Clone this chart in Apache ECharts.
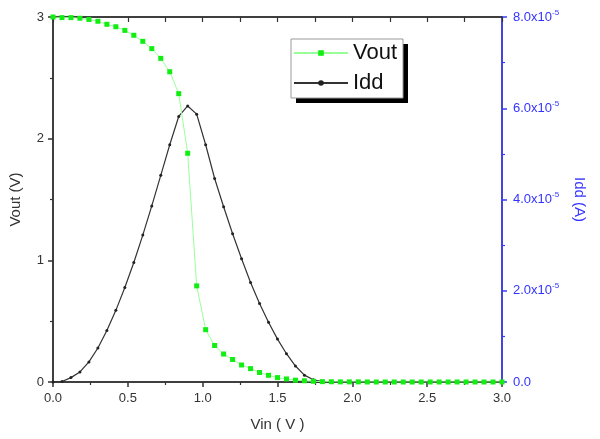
<!DOCTYPE html>
<html><head><meta charset="utf-8">
<script src="https://cdn.jsdelivr.net/npm/echarts@6/dist/echarts.min.js"></script>
<style>html,body{margin:0;padding:0;background:#fff}#c{width:600px;height:439px}</style>
</head><body><div id="c"></div>
<script>
const vin = [0.00,0.06,0.12,0.18,0.24,0.30,0.36,0.42,0.48,0.54,0.60,0.66,0.72,0.78,0.84,0.90,0.96,1.02,1.08,1.14,1.20,1.26,1.32,1.38,1.44,1.50,1.56,1.62,1.68,1.74,1.80,1.86,1.92,1.98,2.04,2.10,2.16,2.22,2.28,2.34,2.40,2.46,2.52,2.58,2.64,2.70,2.76,2.82,2.88,2.94,3.00];
const vout = [3.000,2.995,2.995,2.990,2.980,2.965,2.940,2.920,2.890,2.850,2.800,2.740,2.660,2.550,2.370,1.880,0.790,0.430,0.300,0.230,0.185,0.140,0.110,0.078,0.055,0.036,0.025,0.015,0.010,0.006,0.003,0.002,0.001,0.001,0.001,0,0,0,0,0,0,0,0,0,0,0,0,0,0,0,0];
const idd = [0,0.01e-5,0.096e-5,0.22e-5,0.44e-5,0.745e-5,1.13e-5,1.57e-5,2.07e-5,2.62e-5,3.22e-5,3.86e-5,4.53e-5,5.20e-5,5.82e-5,6.05e-5,5.87e-5,5.20e-5,4.46e-5,3.84e-5,3.25e-5,2.70e-5,2.18e-5,1.72e-5,1.31e-5,0.94e-5,0.62e-5,0.35e-5,0.15e-5,0.05e-5,0.01e-5,0,0,0,0,0,0,0,0,0,0,0,0,0,0,0,0,0,0,0,0];
const xTicks = ['0.0','0.5','1.0','1.5','2.0','2.5','3.0'];
const leftTicks = ['0','1','2','3'];
const rightTicks = ['0.0','2.0','4.0','6.0','8.0'];

const FONT = 'Liberation Sans, Arial, sans-serif';
const chart = echarts.init(document.getElementById('c'), null, {renderer:'canvas'});
const opt = {
  animation:false,
  backgroundColor:'#fff',
  grid:{left:53,right:98,top:17,bottom:57,show:true,borderColor:'#333',borderWidth:1.5,backgroundColor:'transparent'},
  graphic:[
    {type:'rect', z:1, shape:{x:296,y:44,width:112,height:59}, style:{fill:'#000'}},
    {type:'rect', z:2, shape:{x:291,y:39,width:112,height:59}, style:{fill:'#fff',stroke:'#999',lineWidth:1}}
  ],
  legend:{
    z:10, orient:'vertical', left:293, top:42, padding:0,
    itemWidth:54, itemHeight:7, itemGap:8,
    textStyle:{fontFamily:FONT,fontSize:22,color:'#111',lineHeight:22,padding:[0,0,0,0]},
    data:['Vout','Idd']
  },
  xAxis:[{
    type:'value', min:0, max:3, interval:0.5,
    name:'Vin ( V )', nameLocation:'middle', nameGap:35,
    nameTextStyle:{fontFamily:FONT,fontSize:15,color:'#333'},
    axisLine:{onZero:false,lineStyle:{color:'#333',width:1.5}},
    axisTick:{inside:false,length:5,lineStyle:{color:'#333',width:1.5}},
    minorTick:{show:true,splitNumber:2,length:3,lineStyle:{color:'#333',width:1.2}},
    axisLabel:{fontFamily:FONT,fontSize:13,color:'#333',margin:10,formatter:(v)=>xTicks[Math.round(v*2)]},
    splitLine:{show:false}
  },{
    type:'value', position:'top', min:0, max:3, interval:0.25, show:true,
    axisLine:{show:true,onZero:false,lineStyle:{color:'#333',width:1.5}},
    axisTick:{show:true,inside:true,length:5,lineStyle:{color:'#333',width:1.2}},
    axisLabel:{show:false}, splitLine:{show:false}
  }],
  yAxis:[{
    type:'value', min:0, max:3, interval:1, position:'left',
    name:'Vout (V)', nameLocation:'middle', nameGap:30,
    nameTextStyle:{fontFamily:FONT,fontSize:15,color:'#333'},
    axisLine:{show:true,onZero:false,lineStyle:{color:'#333',width:1.5}},
    axisTick:{show:true,inside:false,length:5,lineStyle:{color:'#333',width:1.5}},
    minorTick:{show:true,splitNumber:2,length:3,lineStyle:{color:'#333',width:1.2}},
    axisLabel:{fontFamily:FONT,fontSize:13,color:'#333',margin:9,formatter:(v)=>leftTicks[Math.round(v)]},
    splitLine:{show:false}
  },{
    type:'value', min:0, max:8e-5, interval:2e-5, position:'right',
    name:'Idd (A)', nameLocation:'middle', nameGap:70, nameRotate:-90,
    nameTextStyle:{fontFamily:FONT,fontSize:15,color:'#3333ff'},
    axisLine:{show:true,onZero:false,lineStyle:{color:'#3b3bff',width:1.5}},
    axisTick:{show:true,inside:false,length:5,lineStyle:{color:'#3b3bff',width:1.5}},
    minorTick:{show:true,splitNumber:2,length:3,lineStyle:{color:'#3b3bff',width:1.2}},
    axisLabel:{fontFamily:FONT,fontSize:13,color:'#3333ff',margin:11,
      formatter:(v)=>{const i=Math.round(v/2e-5); return i===0?'{b|'+rightTicks[0]+'}':'{b|'+rightTicks[i]+'x10}{s|-5}';},
      rich:{b:{fontFamily:FONT,fontSize:13,color:'#3333ff'},s:{fontFamily:FONT,fontSize:8,color:'#3333ff',padding:[0,0,9,0]}}
    },
    splitLine:{show:false}
  }],
  series:[{
    name:'Idd', type:'line', xAxisIndex:0, yAxisIndex:1,
    data: vin.map((x,i)=>[x, idd[i]]),
    symbol:'circle', symbolSize:3, showSymbol:true,
    itemStyle:{color:'#222'}, lineStyle:{color:'#333',width:1.2}, z:2
  },{
    name:'Vout', type:'line', xAxisIndex:0, yAxisIndex:0,
    data: vin.map((x,i)=>[x, vout[i]]),
    symbol:'rect', symbolSize:5, showSymbol:true,
    itemStyle:{color:'#11ee11'}, lineStyle:{color:'#99ff99',width:1}, z:3
  }]
};
chart.setOption(opt);
</script></body></html>
